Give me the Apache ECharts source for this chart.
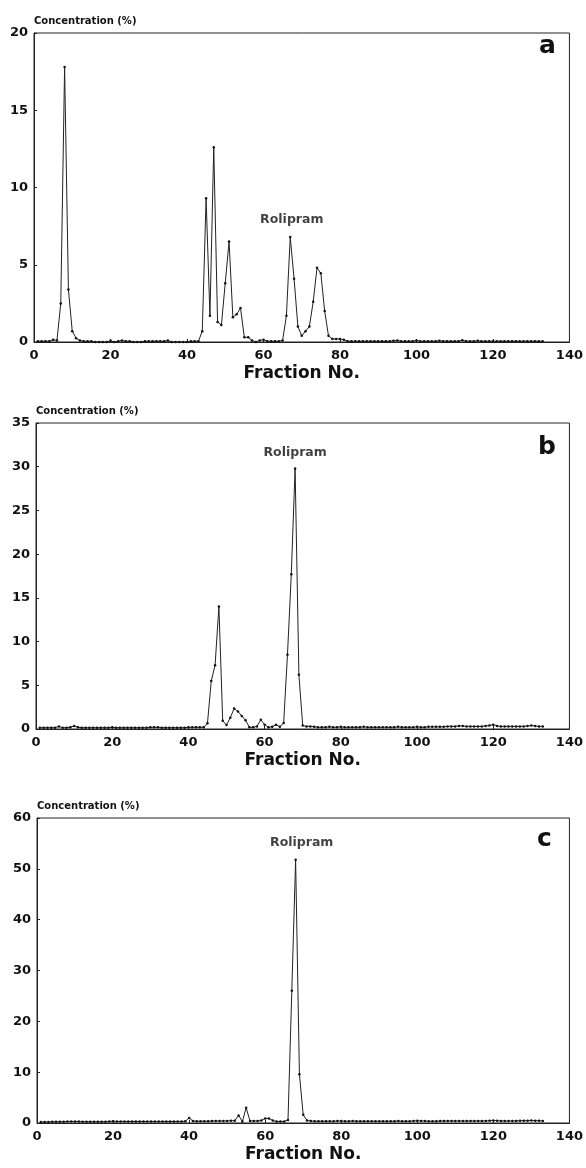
<!DOCTYPE html>
<html>
<head>
<meta charset="utf-8">
<script src="https://cdn.jsdelivr.net/npm/echarts@6/dist/echarts.min.js"></script>
<style>
  html, body { margin: 0; padding: 0; background: #fff; }
  #chart { width: 586px; height: 1168px; }
</style>
</head>
<body>
<div id="chart"></div>
<script>
// x ticks (fraction no.)
var xTicks = [0, 20, 40, 60, 80, 100, 120, 140];
var yMax = [20, 35, 60];
var yStep = [5, 5, 10];
var panelLetters = ["a", "b", "c"];

// concentration (%) per fraction 1..133
var concA = [
  0.05, 0.05, 0.05, 0.05, 0.15, 0.1, 2.5, 17.8, 3.4, 0.7,
  0.25, 0.1, 0.05, 0.05, 0.05, 0.0, 0.0, 0.0, 0.0, 0.08,
  0.0, 0.05, 0.1, 0.05, 0.05, 0.0, 0.0, 0.0, 0.05, 0.05,
  0.05, 0.05, 0.05, 0.05, 0.1, 0.0, 0.0, 0.0, 0.0, 0.0,
  0.05, 0.05, 0.05, 0.7, 9.3, 1.7, 12.6, 1.3, 1.1, 3.8,
  6.5, 1.6, 1.8, 2.2, 0.3, 0.3, 0.1, 0.0, 0.1, 0.15,
  0.05, 0.05, 0.05, 0.05, 0.1, 1.7, 6.8, 4.1, 1.0, 0.4,
  0.7, 1.0, 2.6, 4.8, 4.45, 2.0, 0.4, 0.2, 0.2, 0.2,
  0.15, 0.05, 0.05, 0.05, 0.05, 0.05, 0.05, 0.05, 0.05, 0.05,
  0.05, 0.05, 0.05, 0.08, 0.1, 0.05, 0.05, 0.05, 0.05, 0.1,
  0.05, 0.05, 0.05, 0.05, 0.05, 0.08, 0.05, 0.05, 0.05, 0.05,
  0.05, 0.12, 0.05, 0.05, 0.05, 0.08, 0.05, 0.05, 0.05, 0.05,
  0.05, 0.05, 0.05, 0.05, 0.05, 0.05, 0.05, 0.05, 0.05, 0.05,
  0.05, 0.05, 0.05
];
var concB = [
  0.15, 0.15, 0.15, 0.15, 0.15, 0.3, 0.15, 0.15, 0.2, 0.35,
  0.2, 0.15, 0.15, 0.15, 0.15, 0.15, 0.15, 0.15, 0.15, 0.2,
  0.15, 0.15, 0.15, 0.15, 0.15, 0.15, 0.15, 0.15, 0.15, 0.2,
  0.2, 0.2, 0.15, 0.15, 0.15, 0.15, 0.15, 0.15, 0.15, 0.2,
  0.2, 0.2, 0.2, 0.2, 0.65, 5.5, 7.3, 14.0, 0.95, 0.45,
  1.3, 2.35, 2.0, 1.5, 1.0, 0.2, 0.2, 0.3, 1.05, 0.5,
  0.2, 0.25, 0.5, 0.25, 0.7, 8.5, 17.7, 29.8, 6.2, 0.4,
  0.3, 0.3, 0.25, 0.2, 0.2, 0.2, 0.25, 0.2, 0.2, 0.25,
  0.2, 0.2, 0.2, 0.2, 0.2, 0.25, 0.2, 0.2, 0.2, 0.2,
  0.2, 0.2, 0.2, 0.2, 0.25, 0.2, 0.2, 0.2, 0.2, 0.25,
  0.2, 0.2, 0.25, 0.25, 0.25, 0.25, 0.25, 0.3, 0.3, 0.3,
  0.35, 0.35, 0.3, 0.3, 0.3, 0.3, 0.3, 0.35, 0.4, 0.5,
  0.35, 0.3, 0.3, 0.3, 0.3, 0.3, 0.3, 0.3, 0.35, 0.4,
  0.35, 0.3, 0.3
];
var concC = [
  0.2, 0.2, 0.2, 0.25, 0.25, 0.25, 0.25, 0.3, 0.3, 0.3,
  0.3, 0.25, 0.25, 0.25, 0.25, 0.25, 0.25, 0.25, 0.3, 0.35,
  0.3, 0.3, 0.3, 0.3, 0.3, 0.3, 0.3, 0.3, 0.3, 0.3,
  0.3, 0.3, 0.3, 0.3, 0.3, 0.3, 0.3, 0.3, 0.35, 1.0,
  0.4, 0.35, 0.35, 0.35, 0.35, 0.4, 0.4, 0.4, 0.4, 0.4,
  0.45, 0.45, 1.5, 0.3, 3.0, 0.4, 0.4, 0.4, 0.5, 0.9,
  0.9, 0.5, 0.3, 0.3, 0.3, 0.6, 26.0, 51.8, 9.6, 1.6,
  0.5, 0.4, 0.35, 0.35, 0.35, 0.35, 0.35, 0.35, 0.4, 0.4,
  0.35, 0.35, 0.4, 0.35, 0.35, 0.35, 0.35, 0.35, 0.35, 0.35,
  0.35, 0.35, 0.35, 0.35, 0.4, 0.35, 0.35, 0.35, 0.4, 0.45,
  0.4, 0.4, 0.35, 0.35, 0.35, 0.4, 0.4, 0.4, 0.4, 0.4,
  0.4, 0.4, 0.4, 0.4, 0.4, 0.4, 0.4, 0.4, 0.45, 0.5,
  0.45, 0.4, 0.4, 0.4, 0.4, 0.4, 0.45, 0.45, 0.45, 0.5,
  0.45, 0.45, 0.4
];
// where the "Rolipram" label sits, in data units [fraction, %]
var roliLabelAt = [[67.4, 7.9], [68.0, 31.6], [69.6, 55.2]];

var FONT = "DejaVu Sans";
var chart = echarts.init(document.getElementById("chart"), null, { renderer: "canvas" });

var grids = [
  { left: 34, top: 33, width: 538, height: 309 },
  { left: 36, top: 423, width: 535, height: 306 },
  { left: 37, top: 818, width: 536, height: 305 }
];
var letterOffset = [[-33, 1], [-33, 12], [-36, 9]];

function toPairs(arr) {
  return arr.map(function (v, i) { return [i + 1, v]; });
}

var series = [];
[concA, concB, concC].forEach(function (arr, i) {
  series.push({
    type: "line",
    xAxisIndex: i,
    yAxisIndex: i,
    data: toPairs(arr),
    symbol: "circle",
    symbolSize: 2.5,
    showSymbol: true,
    itemStyle: { color: "#111" },
    lineStyle: { color: "#222", width: 1 }
  });
  series.push({
    type: "scatter",
    xAxisIndex: i,
    yAxisIndex: i,
    data: [roliLabelAt[i]],
    symbolSize: 1,
    itemStyle: { color: "rgba(0,0,0,0)" },
    label: {
      show: true,
      position: "inside",
      formatter: "Rolipram",
      fontFamily: FONT,
      fontWeight: "bold",
      fontSize: 12.5,
      color: "#111"
    },
    silent: true
  });
});

var option = {
  backgroundColor: "#fff",
  animation: false,
  grid: grids.map(function (g) {
    return Object.assign({ show: true, borderColor: "#222", borderWidth: 1, backgroundColor: "transparent" }, g);
  }),
  xAxis: [0, 1, 2].map(function (i) {
    return {
      type: "value",
      gridIndex: i,
      min: 0,
      max: 140,
      interval: 20,
      name: "Fraction No.",
      nameLocation: "middle",
      nameGap: 23,
      nameTextStyle: { fontFamily: FONT, fontWeight: "bold", fontSize: 17, color: "#111" },
      axisLine: { show: true, lineStyle: { color: "#222", width: 1 } },
      axisTick: { show: true, inside: true, length: 3, lineStyle: { color: "#222" } },
      axisLabel: { fontFamily: FONT, fontWeight: "bold", fontSize: 13, color: "#111", margin: 7 },
      splitLine: { show: false }
    };
  }),
  yAxis: [0, 1, 2].map(function (i) {
    return {
      type: "value",
      gridIndex: i,
      min: 0,
      max: yMax[i],
      interval: yStep[i],
      name: "Concentration (%)",
      nameLocation: "end",
      nameGap: 7,
      nameTextStyle: { fontFamily: FONT, fontWeight: "bold", fontSize: 10, color: "#111", align: "left" },
      axisLine: { show: true, lineStyle: { color: "#222", width: 1 } },
      axisTick: { show: true, inside: true, length: 3, lineStyle: { color: "#222" } },
      axisLabel: { fontFamily: FONT, fontWeight: "bold", fontSize: 13, color: "#111", margin: 6 },
      splitLine: { show: false }
    };
  }),
  series: series,
  graphic: panelLetters.map(function (l, i) {
    var g = grids[i];
    return {
      type: "text",
      left: g.left + g.width + letterOffset[i][0],
      top: g.top + letterOffset[i][1],
      style: { text: l, font: "bold 25px " + FONT, fill: "#111" }
    };
  })
};

chart.setOption(option);
</script>
</body>
</html>
